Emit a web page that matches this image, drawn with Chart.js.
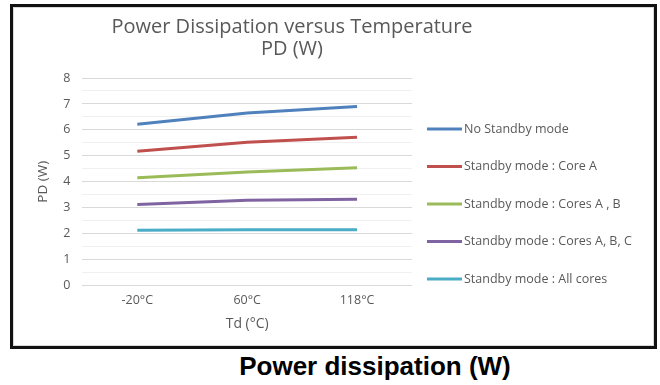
<!DOCTYPE html>
<html>
<head>
<meta charset="utf-8">
<script src="https://cdn.jsdelivr.net/npm/chart.js@4.4.1/dist/chart.umd.min.js"></script>
<style>
  html, body { margin: 0; padding: 0; background: #fff; width: 660px; height: 385px; overflow: hidden; }
  #frame { position: absolute; left: 10px; top: 4px; width: 641px; height: 339px; border: 3px solid #111; box-shadow: inset 0 0 0 1px #d9d9d9; }
  #wrap { position: absolute; left: 13px; top: 7px; width: 641px; height: 339px; }
  #title { position: absolute; left: 72px; top: 15px; width: 440px; text-align: center;
           font-family: "Open Sans", sans-serif; font-size: 20px; line-height: 22px; color: #595959; }
  #caption { position: absolute; left: 155px; top: 351px; width: 440px; text-align: center;
             font-family: "Liberation Sans", Arial, sans-serif; font-weight: bold; font-size: 26px; line-height: 30px; color: #000; }
</style>
</head>
<body>
<div id="frame"></div>
<div id="wrap"><canvas id="c"></canvas></div>
<div id="title">Power Dissipation versus Temperature<br>PD (W)</div>
<div id="caption">Power dissipation (W)</div>
<script>
const categories = ["-20°C", "60°C", "118°C"];
const seriesNames = [
  "No Standby mode",
  "Standby mode : Core A",
  "Standby mode : Cores A , B",
  "Standby mode : Cores A, B, C",
  "Standby mode : All cores"
];
const noStandby   = [6.22, 6.65, 6.9];
const coreA       = [5.18, 5.52, 5.72];
const coresAB     = [4.16, 4.38, 4.54];
const coresABC    = [3.13, 3.29, 3.33];
const allCores    = [2.13, 2.15, 2.15];
const yTicks = { min: 0, max: 8, step: 0.5 };
const seriesColors = ["#4F81BD", "#C0504D", "#9BBB59", "#8064A2", "#4BACC6"];

const allSeries = [noStandby, coreA, coresAB, coresABC, allCores];
const TXT = "#595959";
const FONT = "'Open Sans', sans-serif";

const sideLegend = {
  id: "sideLegend",
  afterDraw(chart) {
    const ctx = chart.ctx;
    ctx.save();
    chart.data.datasets.forEach((ds, i) => {
      const y = 122 + i * 37.5;
      ctx.strokeStyle = ds.borderColor;
      ctx.lineWidth = 3;
      ctx.beginPath();
      ctx.moveTo(414, y);
      ctx.lineTo(449, y);
      ctx.stroke();
      ctx.fillStyle = TXT;
      ctx.font = "12.5px " + FONT;
      ctx.textBaseline = "middle";
      ctx.textAlign = "left";
      ctx.fillText(ds.label, 451, y);
    });
    ctx.restore();
  }
};

new Chart(document.getElementById("c"), {
  type: "line",
  data: {
    labels: categories,
    datasets: allSeries.map((vals, i) => ({
      label: seriesNames[i],
      data: vals,
      borderColor: seriesColors[i],
      backgroundColor: seriesColors[i],
      borderWidth: 3,
      pointRadius: 0,
      tension: 0,
      fill: false
    }))
  },
  options: {
    responsive: true,
    maintainAspectRatio: false,
    animation: false,
    layout: { padding: { top: 71, right: 242, bottom: 9.6, left: 22 } },
    plugins: {
      legend: { display: false },
      tooltip: { enabled: false },
      title: { display: false }
    },
    scales: {
      x: {
        offset: true,
        grid: { display: false, drawTicks: false },
        border: { display: false },
        ticks: { color: TXT, font: { family: FONT, size: 12.5 }, padding: 7.5 },
        title: { display: true, text: "Td (°C)", color: TXT, font: { family: FONT, size: 14 }, padding: { top: 0, bottom: 4 } }
      },
      y: {
        min: yTicks.min, max: yTicks.max,
        border: { display: false },
        grid: {
          drawTicks: false,
          color: (c) => (c.tick && c.tick.value % 1 === 0) ? "#D9D9D9" : "#F0F0F0",
          lineWidth: 1
        },
        ticks: {
          stepSize: yTicks.step,
          autoSkip: false,
          color: TXT,
          font: { family: FONT, size: 12.5 },
          padding: 12,
          callback: (v) => (v % 1 === 0 ? v : "")
        },
        title: { display: true, text: "PD (W)", color: TXT, font: { family: FONT, size: 13.5 }, padding: { top: 0, bottom: 0 } }
      }
    }
  },
  plugins: [sideLegend]
});
</script>
</body>
</html>
